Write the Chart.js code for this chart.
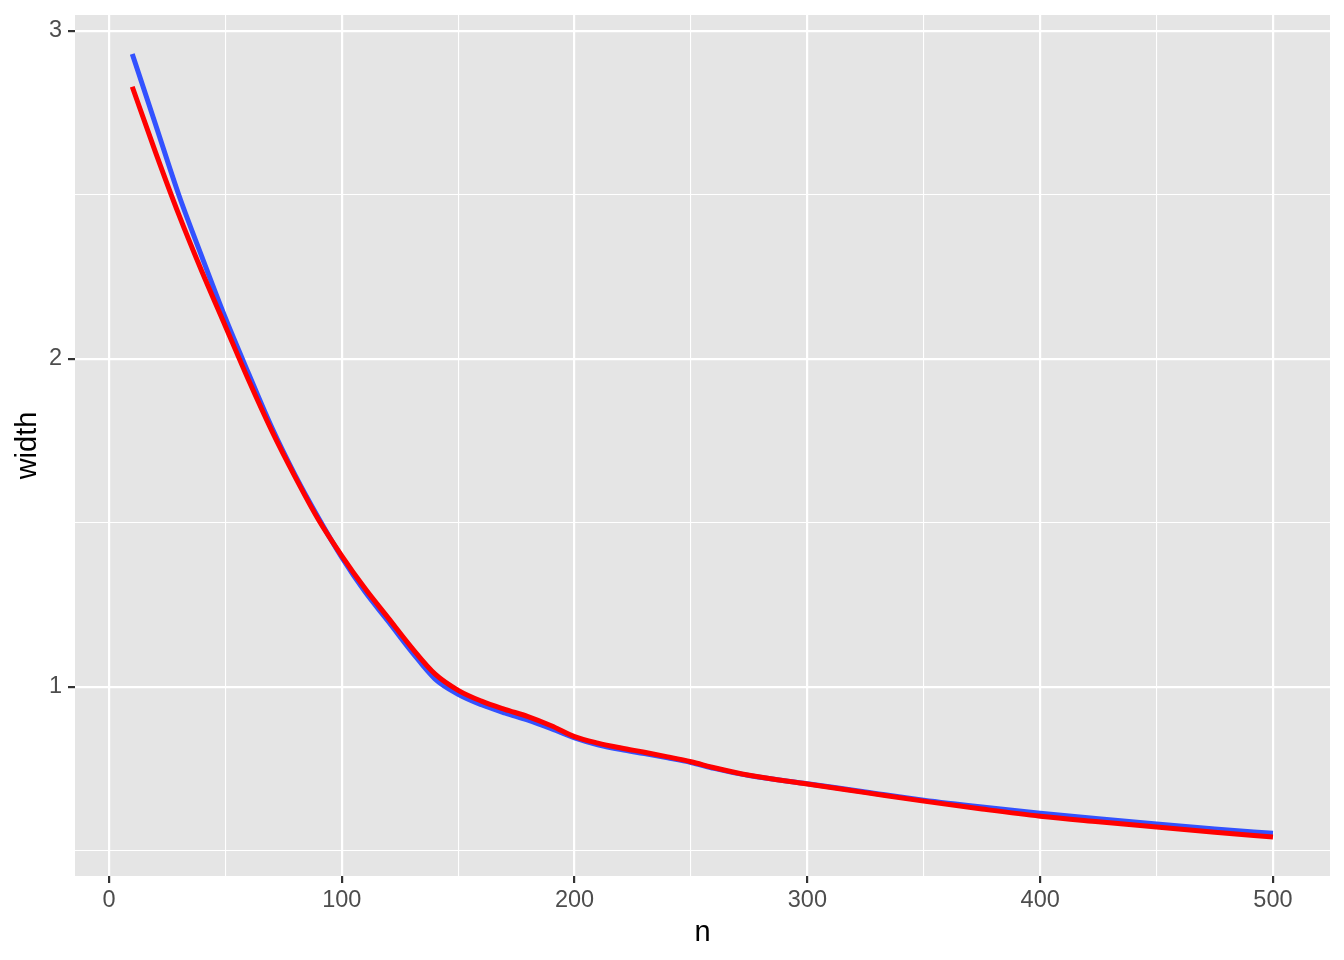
<!DOCTYPE html>
<html>
<head>
<meta charset="utf-8">
<script src="https://cdn.jsdelivr.net/npm/chart.js@4.4.1/dist/chart.umd.min.js"></script>
<style>
  html, body { margin: 0; padding: 0; background: #ffffff; }
  #wrap { width: 1344px; height: 960px; }
</style>
</head>
<body>
<div id="wrap"><canvas id="c" width="1344" height="960"></canvas></div>
<script>
const nValues = [10,20,30,40,50,60,70,80,90,100,110,120,130,140,150,160,170,180,190,200,210,220,230,240,250,260,275,300,325,350,375,400,425,450,475,500];
const blueWidth = [2.93,2.715,2.50,2.31,2.125,1.955,1.79,1.645,1.515,1.395,1.29,1.20,1.108,1.025,0.978,0.946,0.921,0.899,0.873,0.845,0.824,0.809,0.797,0.784,0.770,0.752,0.730,0.705,0.680,0.655,0.634,0.615,0.598,0.582,0.567,0.554];
const redWidth = [2.83,2.63,2.44,2.265,2.10,1.935,1.78,1.64,1.51,1.40,1.30,1.21,1.12,1.04,0.99,0.957,0.932,0.910,0.882,0.849,0.829,0.814,0.801,0.787,0.772,0.754,0.731,0.704,0.678,0.652,0.628,0.606,0.589,0.573,0.557,0.543];
const xTickValues = [0,50,100,150,200,250,300,350,400,450,500];
const yTickValues = [0.5,1,1.5,2,2.5,3];
const xTitle = "n";
const yTitle = "width";

const toPoints = (xs, ys) => xs.map((x, i) => ({x: x, y: ys[i]}));

const panelBg = {
  id: 'panelBg',
  beforeDraw(chart) {
    const a = chart.chartArea, ctx = chart.ctx;
    ctx.save();
    ctx.fillStyle = '#E5E5E5';
    ctx.fillRect(a.left, a.top, a.right - a.left, a.bottom - a.top);
    ctx.restore();
  }
};

const isMajorX = v => v % 100 === 0;
const isMajorY = v => Math.abs(v - Math.round(v)) < 1e-9;

new Chart(document.getElementById('c'), {
  type: 'line',
  data: {
    datasets: [
      { label: 'blue', data: toPoints(nValues, blueWidth), borderColor: '#3352FF', borderWidth: 5,
        pointRadius: 0, fill: false, cubicInterpolationMode: 'monotone', order: 2 },
      { label: 'red', data: toPoints(nValues, redWidth), borderColor: '#FF0000', borderWidth: 5,
        pointRadius: 0, fill: false, cubicInterpolationMode: 'monotone', order: 1 }
    ]
  },
  options: {
    responsive: false,
    devicePixelRatio: 1,
    animation: false,
    layout: { padding: { left: 0, top: 15, right: 14, bottom: 0 } },
    plugins: { legend: { display: false }, tooltip: { enabled: false } },
    scales: {
      x: {
        type: 'linear',
        min: -14.6, max: 524.5,
        afterBuildTicks: s => { s.ticks = xTickValues.map(v => ({value: v})); },
        afterFit: s => { s.height = 84; s.paddingLeft = 0; s.paddingRight = 0; },
        border: { display: false },
        grid: {
          color: '#FFFFFF',
          lineWidth: c => isMajorX(c.tick.value) ? 2.2 : 1.1,
          tickColor: c => isMajorX(c.tick.value) ? '#333333' : 'rgba(0,0,0,0)',
          tickLength: 7, tickWidth: 2.2, drawTicks: true
        },
        ticks: {
          autoSkip: false, maxRotation: 0, padding: 3,
          color: '#4D4D4D',
          font: { family: '"Liberation Sans", Arial, sans-serif', size: 23.5 },
          callback: v => isMajorX(v) ? String(v) : ''
        },
        title: {
          display: true, text: xTitle, color: '#000000',
          font: { family: '"Liberation Sans", Arial, sans-serif', size: 29 },
          padding: { top: 0, bottom: 10 }
        }
      },
      y: {
        type: 'linear',
        min: 0.4238, max: 3.0488,
        afterBuildTicks: s => { s.ticks = yTickValues.map(v => ({value: v})); },
        afterFit: s => { s.width = 75; s.paddingTop = 0; s.paddingBottom = 0; },
        border: { display: false },
        grid: {
          color: '#FFFFFF',
          lineWidth: c => isMajorY(c.tick.value) ? 2.2 : 1.1,
          tickColor: c => isMajorY(c.tick.value) ? '#333333' : 'rgba(0,0,0,0)',
          tickLength: 7, tickWidth: 2.2, drawTicks: true
        },
        ticks: {
          autoSkip: false, padding: 6,
          color: '#4D4D4D',
          font: { family: '"Liberation Sans", Arial, sans-serif', size: 23.5 },
          callback: v => isMajorY(v) ? String(v) : ''
        },
        title: {
          display: true, text: yTitle, color: '#000000',
          font: { family: '"Liberation Sans", Arial, sans-serif', size: 29 },
          padding: { top: 10.6, bottom: 0 }
        }
      }
    }
  },
  plugins: [panelBg]
});
</script>
</body>
</html>
